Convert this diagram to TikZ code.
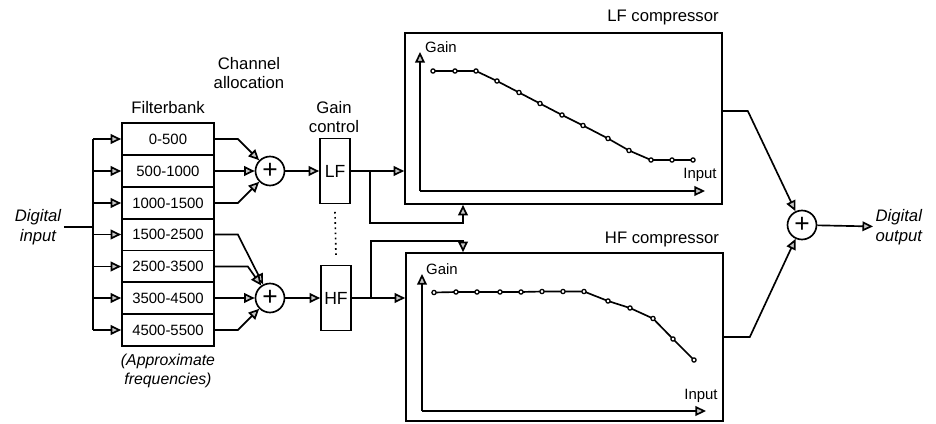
\documentclass[tikz,border=0pt]{standalone}
\usepackage{fontspec}
\setmainfont{Liberation Sans}
\usetikzlibrary{arrows.meta}
\tikzset{fbox/.style = {draw, minimum width = 1.84cm, minimum height = 0.637cm, inner sep = 0pt, font = \fontsize{8.5}{10}\selectfont}}
\tikzset{gbox/.style = {draw, minimum width = 0.6cm, minimum height = 1.3cm, inner sep = 0pt, font = \fontsize{10}{12}\selectfont}}
\tikzset{sum/.style = {shape = circle, draw, minimum size = 0.58cm, inner sep = 0pt, font = \fontsize{15}{15}\selectfont}}
\tikzset{comp/.style = {draw, minimum width = 6.34cm, inner sep = 0pt}}
\tikzset{conn/.style = {-{Triangle[length = 6pt, width = 5.5pt, fill = gray!45]}}}
\tikzset{lbl/.style = {align = center, inner sep = 1pt, font = \fontsize{9.5}{11}\selectfont}}
\tikzset{axlbl/.style = {inner sep = 0pt, font = \fontsize{8.5}{10}\selectfont}}
\tikzset{curve/.style = {mark = *, mark size = 1.2pt, mark options = {fill = white, line width = 0.7pt}}}

\begin{document}
\begin{tikzpicture}[x = 0.02cm, y = -0.02cm, line width = 0.95pt]
	\useasboundingbox (0,0) rectangle (936,423);

	% filterbank
	\node[lbl] (fbl) at (168,108) {Filterbank};
	\node[fbox] (f1) at (168,139) {0-500};
	\node[fbox] (f2) at (168,171) {500-1000};
	\node[fbox] (f3) at (168,203) {1000-1500};
	\node[fbox] (f4) at (168,234.5) {1500-2500};
	\node[fbox] (f5) at (168,266.5) {2500-3500};
	\node[fbox] (f6) at (168,298) {3500-4500};
	\node[fbox] (f7) at (168,330) {4500-5500};
	\node[lbl, font = \fontsize{9}{10.5}\selectfont\itshape] (apx) at (168,371) {(Approximate\\frequencies)};

	% input bus
	\node[lbl, font = \fontsize{9.5}{11.3}\selectfont\itshape] (din) at (38,227) {Digital\\input};
	\coordinate (bus) at (93,227);
	\draw (din.east) -- (bus);
	\draw (f1.west -| bus) -- (f7.west -| bus);
	\draw[conn] (f1.west -| bus) -- (f1.west);
	\draw[conn] (f2.west -| bus) -- (f2.west);
	\draw[conn] (f3.west -| bus) -- (f3.west);
	\draw[conn] (f4.west -| bus) -- (f4.west);
	\draw[conn] (f5.west -| bus) -- (f5.west);
	\draw[conn] (f6.west -| bus) -- (f6.west);
	\draw[conn] (f7.west -| bus) -- (f7.west);

	% channel allocation
	\node[lbl] (cal) at (249,73) {Channel\\allocation};
	\node[sum] (s1) at (270,171) {+};
	\node[sum] (s2) at (270,298) {+};
	\draw[conn] (f1.east) -- ++(23,0) -- (s1);
	\draw[conn] (f2.east) -- (s1);
	\draw[conn] (f3.east) -- ++(23,0) -- (s1);
	\draw[conn] (f4.east) -- ++(23,0) -- (s2);
	\draw[conn] (f5.east) -- ++(33,0) -- (s2);
	\draw[conn] (f6.east) -- (s2);
	\draw[conn] (f7.east) -- ++(23,0) -- (s2);

	% gain control
	\node[lbl] (gcl) at (334,117) {Gain\\control};
	\node[gbox] (lf) at (335,171) {LF};
	\node[gbox] (hf) at (336,298) {HF};
	\draw[conn] (s1) -- (lf);
	\draw[conn] (s2) -- (hf);
	\draw[dotted] ([yshift = -0.15cm]lf.south) -- ([yshift = 0.15cm]hf.north);

	% compressors
	\node[comp, minimum height = 3.42cm] (lfc) at (563.5,118.5) {};
	\node[comp, minimum height = 3.36cm] (hfc) at (564.5,337) {};
	\node[lbl] (lfcl) at (663,17) {LF compressor};
	\node[lbl] (hfcl) at (662,239) {HF compressor};

	\draw[conn] (lf.east) -- (lf.east -| lfc.west);
	\coordinate (lfb) at (370,171);
	\coordinate (lftap) at (463,223);
	\draw[conn] (lfb) |- (lftap) -- (lftap |- lfc.south);

	\draw[conn] (hf.east) -- (hf.east -| hfc.west);
	\coordinate (hfb) at (371,298);
	\coordinate (hftap) at (463,241);
	\draw[conn] (hfb) |- (hftap) -- (hftap |- hfc.north);

	% LF curve
	\draw[conn] (420,191) -- (420,52);
	\draw[conn] (420,191) -- (705,191);
	\node[axlbl] (lfg) at (441,47) {Gain};
	\node[axlbl] (lfi) at (700,175) {Input};
	\draw[curve] plot coordinates {(433,71) (455,71) (476,71) (497,81) (519,92.5) (540,103.5) (562,115) (583,125.5) (608,138.5) (629,150.5) (651,160) (672,160) (693,160)};

	% HF curve
	\draw[conn] (422,411) -- (422,274);
	\draw[conn] (422,411) -- (706,411);
	\node[axlbl] (hfg) at (442,269) {Gain};
	\node[axlbl] (hfi) at (701,396) {Input};
	\draw[curve] plot coordinates {(434,292.5) (456,292) (477,292) (500,292) (521,292) (542,291.5) (563,291.5) (584,291.5) (608,301) (630,308) (653,318.5) (673,339) (694,360)};

	% output
	\node[sum] (sout) at (802,225) {+};
	\draw[conn] ([yshift = 0.15cm]lfc.east) -- ++(25,0) -- (sout);
	\draw[conn] (hfc.east) -- ++(26,0) -- (sout);
	\node[lbl, anchor = west, font = \fontsize{9.5}{11.3}\selectfont\itshape] (dout) at (873,227) {Digital\\output};
	\draw[conn] (sout) -- (dout);
\end{tikzpicture}
\end{document}
